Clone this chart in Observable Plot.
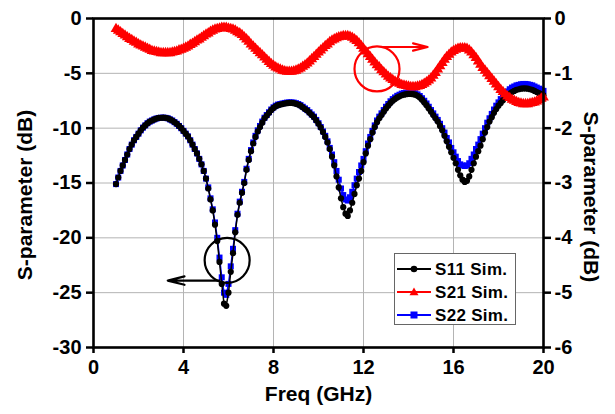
<!DOCTYPE html>
<html><head><meta charset="utf-8">
<script src="https://cdn.jsdelivr.net/npm/d3@7"></script>
<script src="https://cdn.jsdelivr.net/npm/@observablehq/plot@0.6"></script>
<style>
body{margin:0;background:#fff;}
#wrap{position:relative;width:615px;height:414px;font-family:"Liberation Sans",Arial,sans-serif;}
#legend{position:absolute;left:394px;top:253px;width:122px;height:72px;border:1px solid #666;background:#fff;box-sizing:border-box;}
#legend svg{display:block;overflow:visible;}
</style></head><body><div id="wrap"></div>
<script>
const freq = [1.0,1.1,1.2,1.3,1.4,1.5,1.6,1.7,1.8,1.9,2.0,2.1,2.2,2.3,2.4,2.5,2.6,2.7,2.8,2.9,3.0,3.1,3.2,3.3,3.4,3.5,3.6,3.7,3.8,3.9,4.0,4.1,4.2,4.3,4.4,4.5,4.6,4.7,4.8,4.9,5.0,5.1,5.2,5.3,5.4,5.5,5.6,5.7,5.8,5.9,6.0,6.1,6.2,6.3,6.4,6.5,6.6,6.7,6.8,6.9,7.0,7.1,7.2,7.3,7.4,7.5,7.6,7.7,7.8,7.9,8.0,8.1,8.2,8.3,8.4,8.5,8.6,8.7,8.8,8.9,9.0,9.1,9.2,9.3,9.4,9.5,9.6,9.7,9.8,9.9,10.0,10.1,10.2,10.3,10.4,10.5,10.6,10.7,10.8,10.9,11.0,11.1,11.2,11.3,11.4,11.5,11.6,11.7,11.8,11.9,12.0,12.1,12.2,12.3,12.4,12.5,12.6,12.7,12.8,12.9,13.0,13.1,13.2,13.3,13.4,13.5,13.6,13.7,13.8,13.9,14.0,14.1,14.2,14.3,14.4,14.5,14.6,14.7,14.8,14.9,15.0,15.1,15.2,15.3,15.4,15.5,15.6,15.7,15.8,15.9,16.0,16.1,16.2,16.3,16.4,16.5,16.6,16.7,16.8,16.9,17.0,17.1,17.2,17.3,17.4,17.5,17.6,17.7,17.8,17.9,18.0,18.1,18.2,18.3,18.4,18.5,18.6,18.7,18.8,18.9,19.0,19.1,19.2,19.3,19.4,19.5,19.6,19.7,19.8,19.9,20.0];

// S11 (left axis, dB)
const s11 = [-15.1,-14.5,-13.9,-13.4,-12.9,-12.4,-11.9,-11.5,-11.1,-10.8,-10.5,-10.2,-9.95,-9.75,-9.55,-9.4,-9.3,-9.2,-9.12,-9.07,-9.05,-9.04,-9.06,-9.1,-9.2,-9.3,-9.45,-9.6,-9.8,-10.0,-10.25,-10.5,-10.75,-11.1,-11.5,-11.9,-12.3,-12.8,-13.3,-13.9,-14.6,-15.5,-16.5,-17.5,-18.8,-20.3,-22.2,-24.2,-26.0,-26.2,-25.0,-23.1,-21.4,-19.5,-17.9,-16.8,-15.9,-15.0,-13.8,-12.9,-12.1,-11.4,-10.8,-10.3,-9.9,-9.5,-9.1,-8.85,-8.6,-8.35,-8.15,-8.0,-7.9,-7.85,-7.8,-7.75,-7.72,-7.7,-7.7,-7.72,-7.78,-7.85,-7.95,-8.1,-8.25,-8.4,-8.6,-8.8,-9.0,-9.3,-9.6,-9.95,-10.35,-10.8,-11.3,-11.9,-12.6,-13.4,-14.4,-15.4,-16.4,-17.2,-17.8,-18.0,-17.5,-16.8,-16.0,-15.2,-14.6,-13.9,-13.1,-12.3,-11.6,-11.0,-10.4,-9.9,-9.45,-9.1,-8.8,-8.5,-8.2,-7.95,-7.7,-7.5,-7.35,-7.2,-7.1,-7.0,-6.95,-6.9,-6.88,-6.88,-6.9,-6.95,-7.05,-7.2,-7.4,-7.65,-7.9,-8.2,-8.5,-8.8,-9.1,-9.4,-9.8,-10.2,-10.7,-11.2,-11.7,-12.2,-12.7,-13.2,-13.8,-14.3,-14.7,-14.9,-14.8,-14.4,-13.8,-13.2,-12.6,-12.1,-11.6,-11.0,-10.4,-9.9,-9.4,-9.0,-8.6,-8.25,-7.95,-7.7,-7.45,-7.2,-7.0,-6.85,-6.7,-6.6,-6.5,-6.45,-6.4,-6.38,-6.38,-6.4,-6.45,-6.5,-6.6,-6.7,-6.8,-6.9,-7.0];

// S21 (right axis, dB)
const s21 = [-0.19,-0.22,-0.25,-0.28,-0.31,-0.34,-0.37,-0.39,-0.42,-0.44,-0.47,-0.49,-0.51,-0.53,-0.55,-0.57,-0.59,-0.60,-0.61,-0.62,-0.63,-0.63,-0.63,-0.63,-0.63,-0.62,-0.61,-0.60,-0.58,-0.57,-0.55,-0.53,-0.51,-0.48,-0.46,-0.43,-0.40,-0.38,-0.35,-0.32,-0.29,-0.27,-0.24,-0.22,-0.20,-0.19,-0.18,-0.17,-0.17,-0.17,-0.18,-0.19,-0.20,-0.22,-0.25,-0.27,-0.30,-0.34,-0.38,-0.42,-0.47,-0.51,-0.55,-0.59,-0.63,-0.67,-0.71,-0.75,-0.79,-0.83,-0.86,-0.89,-0.91,-0.93,-0.95,-0.96,-0.97,-0.97,-0.97,-0.96,-0.95,-0.93,-0.91,-0.88,-0.85,-0.82,-0.78,-0.74,-0.70,-0.66,-0.62,-0.58,-0.54,-0.50,-0.47,-0.43,-0.40,-0.38,-0.36,-0.34,-0.33,-0.32,-0.32,-0.32,-0.33,-0.35,-0.38,-0.41,-0.45,-0.50,-0.55,-0.60,-0.65,-0.70,-0.75,-0.80,-0.85,-0.89,-0.94,-0.98,-1.02,-1.06,-1.09,-1.12,-1.15,-1.17,-1.19,-1.21,-1.22,-1.23,-1.24,-1.25,-1.25,-1.25,-1.24,-1.23,-1.21,-1.19,-1.16,-1.13,-1.09,-1.04,-0.99,-0.93,-0.87,-0.81,-0.75,-0.70,-0.66,-0.62,-0.59,-0.57,-0.55,-0.54,-0.54,-0.54,-0.55,-0.58,-0.62,-0.67,-0.72,-0.78,-0.84,-0.90,-0.95,-1.00,-1.05,-1.10,-1.15,-1.20,-1.25,-1.30,-1.34,-1.38,-1.42,-1.45,-1.48,-1.50,-1.52,-1.54,-1.55,-1.56,-1.56,-1.56,-1.55,-1.54,-1.53,-1.51,-1.49,-1.46,-1.44];

// S22 (left axis, dB)
const s22 = [-15.1,-14.5,-13.9,-13.4,-12.9,-12.4,-11.9,-11.5,-11.1,-10.8,-10.5,-10.2,-9.95,-9.75,-9.55,-9.4,-9.3,-9.2,-9.12,-9.07,-9.05,-9.04,-9.06,-9.1,-9.2,-9.3,-9.45,-9.6,-9.8,-10.0,-10.25,-10.5,-10.75,-11.1,-11.5,-11.9,-12.3,-12.8,-13.3,-13.9,-14.6,-15.4,-16.4,-17.4,-18.6,-20.0,-21.8,-23.6,-25.0,-25.2,-24.2,-22.6,-21.0,-19.3,-17.8,-16.7,-15.8,-14.9,-13.7,-12.8,-12.0,-11.3,-10.7,-10.2,-9.8,-9.4,-9.05,-8.8,-8.55,-8.3,-8.1,-7.95,-7.85,-7.8,-7.75,-7.7,-7.67,-7.65,-7.65,-7.67,-7.72,-7.8,-7.9,-8.05,-8.2,-8.35,-8.55,-8.75,-8.95,-9.25,-9.55,-9.9,-10.3,-10.7,-11.2,-11.8,-12.4,-13.1,-13.9,-14.7,-15.5,-16.1,-16.5,-16.6,-16.3,-15.8,-15.2,-14.6,-14.0,-13.4,-12.8,-12.1,-11.4,-10.8,-10.25,-9.75,-9.3,-8.95,-8.65,-8.35,-8.05,-7.8,-7.55,-7.35,-7.2,-7.05,-6.95,-6.85,-6.8,-6.76,-6.74,-6.74,-6.77,-6.82,-6.92,-7.07,-7.27,-7.5,-7.75,-8.05,-8.35,-8.65,-8.95,-9.25,-9.6,-10.0,-10.4,-10.9,-11.3,-11.8,-12.2,-12.6,-13.0,-13.3,-13.4,-13.45,-13.4,-13.2,-12.8,-12.4,-11.9,-11.5,-11.0,-10.5,-10.0,-9.5,-9.1,-8.7,-8.3,-7.95,-7.65,-7.35,-7.1,-6.85,-6.65,-6.45,-6.3,-6.2,-6.1,-6.05,-6.0,-5.97,-5.97,-6.0,-6.05,-6.1,-6.2,-6.3,-6.4,-6.5,-6.6];

const xTicks = [0, 4, 8, 12, 16, 20];
const yLeftTicks = [-30, -25, -20, -15, -10, -5, 0];
const yRightTicks = [-6, -5, -4, -3, -2, -1, 0];
const seriesNames = ["S11 Sim.", "S21 Sim.", "S22 Sim."];
const seriesColors = ["#000000", "#ff0000", "#0000ff"];

// annotation anchors (data units): S11 marker circle + left arrow, S21 marker circle + right arrow
const noteS11 = {f: 5.94, db: -22.05, arrowFrom: 5.6, arrowTo: 3.3, arrowDb: -23.9};
const noteS21 = {f: 12.6, db: -0.92, arrowFrom: 12.85, arrowTo: 14.85, arrowDb: -0.52};

const R = 5; // left-axis dB per right-axis dB (-30..0 vs -6..0)
const rows = freq.map((f, i) => ({f, s11: s11[i], s21: s21[i] * R, s22: s22[i]}));

const plot = Plot.plot({
  width: 615, height: 414,
  marginTop: 18, marginRight: 72, marginBottom: 67, marginLeft: 93,
  style: {fontFamily: "'Liberation Sans', Arial, sans-serif", fontSize: "20px", fontWeight: "bold", color: "#000", background: "#fff"},
  x: {domain: [0, 20]},
  y: {domain: [-30, 0]},
  marks: [
    Plot.gridX(xTicks.slice(1, -1), {stroke: "#b4b4b4", strokeOpacity: 1, strokeWidth: 1}),
    Plot.gridY(yLeftTicks.slice(1, -1), {stroke: "#b4b4b4", strokeOpacity: 1, strokeWidth: 1}),
    Plot.line(rows, {x: "f", y: "s22", stroke: seriesColors[2], strokeWidth: 1.5}),
    Plot.dot(rows, {x: "f", y: "s22", symbol: "square", r: 3.4, fill: seriesColors[2]}),
    Plot.line(rows, {x: "f", y: "s11", stroke: seriesColors[0], strokeWidth: 1.5}),
    Plot.dot(rows, {x: "f", y: "s11", r: 3.1, fill: seriesColors[0]}),
    Plot.line(rows, {x: "f", y: "s21", stroke: seriesColors[1], strokeWidth: 1.5}),
    Plot.dot(rows, {x: "f", y: "s21", symbol: "triangle", r: 4, fill: seriesColors[1]}),
    Plot.dot([noteS11], {x: "f", y: "db", r: 22.5, stroke: "#000", strokeWidth: 2.2, fill: "none"}),
    Plot.arrow([noteS11], {x1: "arrowFrom", x2: "arrowTo", y1: "arrowDb", y2: "arrowDb", stroke: "#000", strokeWidth: 2.2, headLength: 13, headAngle: 28}),
    Plot.dot([noteS21], {x: "f", y: d => d.db * R, r: 22.5, stroke: "#ff0000", strokeWidth: 2.2, fill: "none"}),
    Plot.arrow([noteS21], {x1: "arrowFrom", x2: "arrowTo", y1: d => d.arrowDb * R, y2: d => d.arrowDb * R, stroke: "#ff0000", strokeWidth: 2.2, headLength: 13, headAngle: 28}),
    Plot.frame({stroke: "#000", strokeWidth: 2.6}),
    Plot.axisX(xTicks, {tickSize: 6, tickPadding: 6, strokeWidth: 2.5, label: null, tickFormat: d => String(d)}),
    Plot.axisY(yLeftTicks, {anchor: "left", tickSize: 7, tickPadding: 5, strokeWidth: 2.5, label: null, tickFormat: d => String(d)}),
    Plot.axisY(yRightTicks.map(v => v * R), {anchor: "right", tickSize: 7, tickPadding: 4, strokeWidth: 2.5, label: null, tickFormat: d => String(d / R)}),
    Plot.text(["S-parameter (dB)"], {frameAnchor: "left", textAnchor: "middle", dx: -68, dy: 12, rotate: -90, fontSize: 21, fontWeight: "bold", fill: "#000"}),
    Plot.text(["S-parameter (dB)"], {frameAnchor: "right", textAnchor: "middle", dx: 47, dy: 14, rotate: 90, fontSize: 21, fontWeight: "bold", fill: "#000"}),
    Plot.text(["Freq (GHz)"], {frameAnchor: "bottom", textAnchor: "middle", dy: 53, fontSize: 21, fontWeight: "bold", fill: "#000"})
  ]
});
const wrap = document.getElementById("wrap");
wrap.appendChild(plot);

// legend box
const legend = document.createElement("div");
legend.id = "legend";
const rowsY = [15, 38, 61];
const symbols = [
  (y, c) => `<circle cx="19" cy="${y}" r="3.3" fill="${c}"/>`,
  (y, c) => `<path d="M19,${y - 4.5} L23.5,${y + 3.2} L14.5,${y + 3.2} Z" fill="${c}"/>`,
  (y, c) => `<rect x="15.5" y="${y - 3.5}" width="7" height="7" fill="${c}"/>`
];
let svg = `<svg width="120" height="70" xmlns="http://www.w3.org/2000/svg">`;
seriesNames.forEach((name, i) => {
  const y = rowsY[i];
  svg += `<line x1="2" x2="36" y1="${y}" y2="${y}" stroke="${seriesColors[i]}" stroke-width="2"/>`;
  svg += symbols[i](y, seriesColors[i]);
  svg += `<text x="40" y="${y + 6}" font-family="'Liberation Sans', Arial, sans-serif" font-size="17" font-weight="bold" letter-spacing="0.3" fill="#000">${name}</text>`;
});
svg += `</svg>`;
legend.innerHTML = svg;
wrap.appendChild(legend);
</script>
</body></html>
